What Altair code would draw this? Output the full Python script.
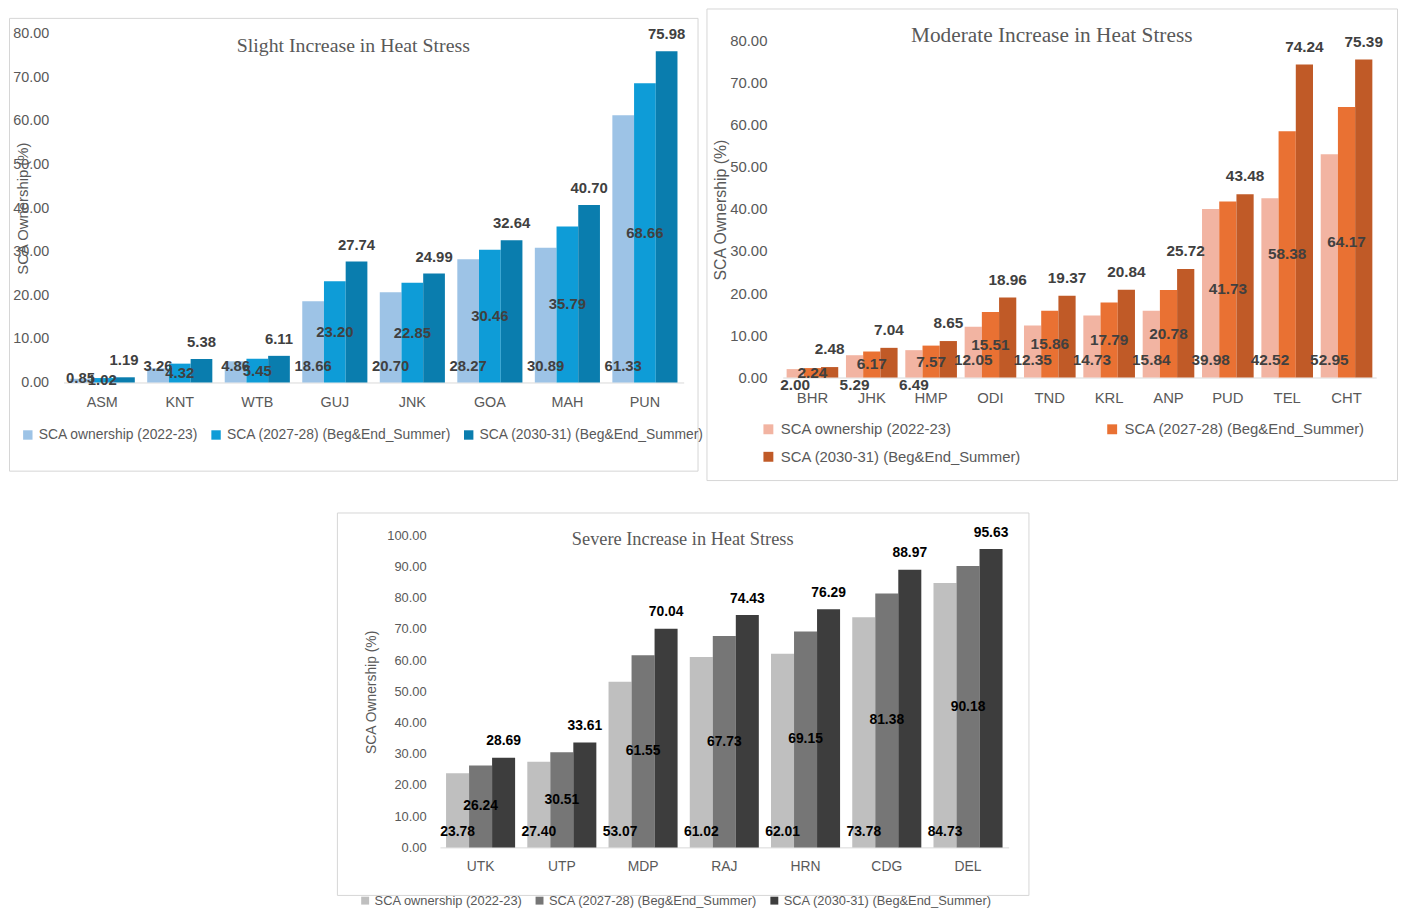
import altair as alt
import pandas as pd

SERIES = ["SCA ownership (2022-23)", "SCA (2027-28) (Beg&End_Summer)", "SCA (2030-31) (Beg&End_Summer)"]

# Panel 1 - Slight increase
cats1 = ["ASM", "KNT", "WTB", "GUJ", "JNK", "GOA", "MAH", "PUN"]
s1_1 = [0.85, 3.26, 4.86, 18.66, 20.70, 28.27, 30.89, 61.33]
s2_1 = [1.02, 4.32, 5.45, 23.20, 22.85, 30.46, 35.79, 68.66]
s3_1 = [1.19, 5.38, 6.11, 27.74, 24.99, 32.64, 40.70, 75.98]
ticks1 = [0, 10, 20, 30, 40, 50, 60, 70, 80]
colors1 = ["#9DC3E6", "#0E9CD7", "#0A7DAE"]

# Panel 2 - Moderate increase
cats2 = ["BHR", "JHK", "HMP", "ODI", "TND", "KRL", "ANP", "PUD", "TEL", "CHT"]
s1_2 = [2.00, 5.29, 6.49, 12.05, 12.35, 14.73, 15.84, 39.98, 42.52, 52.95]
s2_2 = [2.24, 6.17, 7.57, 15.51, 15.86, 17.79, 20.78, 41.73, 58.38, 64.17]
s3_2 = [2.48, 7.04, 8.65, 18.96, 19.37, 20.84, 25.72, 43.48, 74.24, 75.39]
ticks2 = [0, 10, 20, 30, 40, 50, 60, 70, 80]
colors2 = ["#F2B4A2", "#E97133", "#C05A27"]

# Panel 3 - Severe increase
cats3 = ["UTK", "UTP", "MDP", "RAJ", "HRN", "CDG", "DEL"]
s1_3 = [23.78, 27.40, 53.07, 61.02, 62.01, 73.78, 84.73]
s2_3 = [26.24, 30.51, 61.55, 67.73, 69.15, 81.38, 90.18]
s3_3 = [28.69, 33.61, 70.04, 74.43, 76.29, 88.97, 95.63]
ticks3 = [0, 10, 20, 30, 40, 50, 60, 70, 80, 90, 100]
colors3 = ["#BFBFBF", "#767676", "#3D3D3D"]

FONT = "Liberation Sans"
SERIF = "Liberation Serif"
GRAY = "#595959"


def long_table(cats, a, b, c):
    rows = []
    for i, cat in enumerate(cats):
        for s, v in zip(SERIES, (a[i], b[i], c[i])):
            rows.append({"cat": cat, "series": s, "value": v})
    return pd.DataFrame(rows)


def panel(df, cats, ticks, colors, title, g):
    W, H = g["W"], g["H"]
    zero, top = g["zero"], g["top"]
    xenc = alt.X(
        "cat:N", sort=cats, title=None,
        scale=alt.Scale(range=g["xr"], paddingInner=g["pi"], paddingOuter=g["pi"] / 2),
        axis=alt.Axis(orient="bottom", offset=-(H - zero), domainColor="#D9D9D9", domainWidth=1,
                      ticks=False, tickSize=0, grid=False, labelAngle=0, labelColor=GRAY,
                      labelFont=FONT, labelFontSize=g["xfs"], labelPadding=g["xpad"]),
    )
    xo = alt.XOffset("series:N", sort=SERIES, scale=alt.Scale(paddingInner=0, paddingOuter=0))

    def yenc(field):
        return alt.Y(
            field, title="SCA Ownership (%)",
            scale=alt.Scale(domain=[ticks[0], ticks[-1]], range=[zero, top], nice=False, zero=True),
            axis=alt.Axis(values=ticks, format=".2f", offset=-g["ylab"], grid=False, domain=False,
                          ticks=False, tickSize=0, labelPadding=0, labelColor=GRAY, labelFont=FONT,
                          labelFontSize=g["yfs"], titleFont=FONT, titleFontSize=g["ytfs"],
                          titleFontWeight="normal", titleColor=GRAY, titleAngle=270,
                          titleAlign="center", titleBaseline="middle",
                          titleX=g["ytx"] - g["ylab"], titleY=g["yty"]),
        )

    color = alt.Color(
        "series:N", sort=SERIES,
        scale=alt.Scale(domain=SERIES, range=colors),
        legend=alt.Legend(title=None, orient="none", legendX=g["lx"], legendY=g["ly"],
                          direction="horizontal", columns=g["lcols"], symbolType="square",
                          symbolSize=g["lsym"], symbolStrokeWidth=0, labelFont=FONT,
                          labelFontSize=g["lfs"], labelColor=GRAY, labelLimit=600,
                          labelOffset=g["loff"], columnPadding=g["lcp"], rowPadding=g["lrp"]),
    )
    base = alt.Chart(df)
    bars = base.mark_bar().encode(x=xenc, xOffset=xo, y=yenc("value:Q"), color=color)

    tstyle = dict(font=FONT, fontSize=g["dfs"], fontWeight="bold", color=g["dcol"], baseline="middle")
    txt = alt.Text("value:Q", format=".2f")

    top_lbl = base.transform_filter(alt.datum.series == SERIES[2]).mark_text(dy=g["tdy"], **tstyle).encode(
        x=xenc, xOffset=xo, y=yenc("value:Q"), text=txt)
    mid_lbl = base.transform_filter(alt.datum.series == SERIES[1]).transform_calculate(
        half="datum.value / 2").mark_text(**tstyle).encode(
        x=xenc, xOffset=xo, y=yenc("half:Q"), text=txt)
    base_lbl = base.transform_filter(
        (alt.datum.series == SERIES[0]) & (alt.datum.value >= g["thr"])).transform_calculate(
        base0="0").mark_text(dy=g["bdy"], **tstyle).encode(
        x=xenc, xOffset=xo, y=yenc("base0:Q"), text=txt)
    small_lbl = base.transform_filter(
        (alt.datum.series == SERIES[0]) & (alt.datum.value < g["thr"])).transform_calculate(
        base0="0").mark_text(dy=g["sdy"], **tstyle).encode(
        x=xenc, xOffset=xo, y=yenc("base0:Q"), text=txt)

    heading = alt.Chart(pd.DataFrame({"t": [title]})).mark_text(
        font=SERIF, fontSize=g["tfs"], color=GRAY, align="center", baseline="middle"
    ).encode(x=alt.value(W / 2), y=alt.value(g["ty"]), text="t:N")

    return alt.layer(bars, base_lbl, small_lbl, mid_lbl, top_lbl, heading).properties(width=W, height=H)


g1 = dict(W=695, H=457, zero=368, top=16, xr=[55, 681], pi=0.16, xfs=14.5, xpad=13,
          ylab=40, yfs=14.5, ytfs=15, ytx=14, yty=192, tfs=20, ty=28,
          lx=12, ly=414, lcols=3, lsym=90, lfs=14, loff=4, lcp=10, lrp=10,
          dfs=15, dcol="#404040", tdy=-17, bdy=-17, thr=1, sdy=-4)
g2 = dict(W=697, H=476, zero=372.5, top=32, xr=[77, 676], pi=0.13, xfs=15, xpad=13,
          ylab=61, yfs=15, ytfs=16, ytx=14, yty=203, tfs=21.5, ty=28,
          lx=55, ly=417, lcols=2, lsym=100, lfs=15, loff=5, lcp=84, lrp=12,
          dfs=15.5, dcol="#404040", tdy=-18, bdy=-17.5, thr=10, sdy=8)
g3 = dict(W=698, H=386, zero=338, top=23, xr=[104, 678], pi=0.15, xfs=14, xpad=12,
          ylab=90, yfs=13, ytfs=14, ytx=35, yty=181, tfs=18.5, ty=27,
          lx=22, ly=385, lcols=3, lsym=64, lfs=13, loff=3, lcp=10, lrp=10,
          dfs=14, dcol="#000000", tdy=-16.5, bdy=-15, thr=0, sdy=0)

c1 = panel(long_table(cats1, s1_1, s2_1, s3_1), cats1, ticks1, colors1, "Slight Increase in Heat Stress", g1)
c2 = panel(long_table(cats2, s1_2, s2_2, s3_2), cats2, ticks2, colors2, "Moderate Increase in Heat Stress", g2)
c3 = panel(long_table(cats3, s1_3, s2_3, s3_3), cats3, ticks3, colors3, "Severe Increase in Heat Stress", g3)

spacer = alt.Chart(pd.DataFrame({"v": [0]})).mark_point(opacity=0, size=1).encode(
    x=alt.X("v:Q", axis=None), y=alt.Y("v:Q", axis=None)
).properties(width=330, height=10, view=alt.ViewBackground(strokeOpacity=0))

res = dict(color="independent", x="independent", y="independent", xOffset="independent")
row1 = alt.HConcatChart(hconcat=[c1, c2], spacing=0, center=True).resolve_scale(**res)
row2 = alt.HConcatChart(hconcat=[spacer, c3], spacing=0).resolve_scale(**res)
chart = alt.VConcatChart(vconcat=[row1, row2], spacing=31).resolve_scale(**res).properties(
    padding={"left": 0, "top": -5, "right": 0, "bottom": 0}, background="white"
).configure_view(stroke="#D6D6D6", strokeWidth=1)

chart.save("out.html", embed_options={"renderer": "svg", "actions": False})
